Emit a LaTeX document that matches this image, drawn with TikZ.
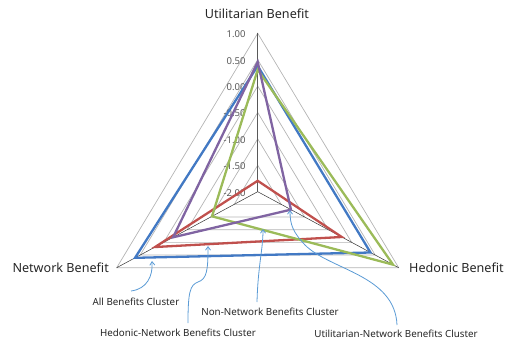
\documentclass[tikz,border=0pt]{standalone}
\usepackage{fontspec}
\setmainfont{Noto Sans}
\usetikzlibrary{calc,arrows.meta}
\definecolor{sblue}{HTML}{4279C4}
\definecolor{sred}{HTML}{C0504D}
\definecolor{sgreen}{HTML}{9BBB59}
\definecolor{spurple}{HTML}{8064A2}
\definecolor{arrowblue}{HTML}{5B9BD5}
\definecolor{gridgray}{HTML}{B4B4B4}
\definecolor{ticktext}{HTML}{595959}
\tikzset{
  gridline/.style={draw=gridgray, line width=0.7pt},
  axisline/.style={draw=black!80, line width=0.5pt},
  mainaxis/.style={draw=black!65, line width=1.3pt},
  series/.style={line width=2.3pt, line join=miter},
  ticklabel/.style={anchor=east, font=\fontsize{9.5}{11}\selectfont, text=ticktext, inner sep=0pt},
  axislabel/.style={font=\fontsize{12.6}{14}\selectfont, text=black!85, inner sep=0pt},
  clusterlabel/.style={font=\fontsize{9.8}{11}\selectfont, text=black!85, inner sep=0pt},
  pointer/.style={draw=arrowblue, line width=0.8pt, -{Straight Barb[length=3.5pt,width=5pt]}}
}
\begin{document}
\begin{tikzpicture}[x=1pt,y=-1pt]
\useasboundingbox (0,0) rectangle (511,342);
\coordinate (C) at (257.7,191.7);
\coordinate (T) at (257.7,33.3);
\coordinate (L) at (116.7,267.7);
\coordinate (R) at (398.7,267.7);
% grid rings
\foreach \f in {0.1667,0.3333,0.5,0.6667,0.8333,1.0}{
  \draw[gridline] ($(C)!\f!(T)$) -- ($(C)!\f!(R)$) -- ($(C)!\f!(L)$) -- cycle;
}
% axes
\draw[axisline] (C) -- (L);
\draw[axisline] (C) -- (R);
\draw[mainaxis] (C) -- (T);
% tick labels
\foreach \v/\f in {1.00/1.0,0.50/0.8333,0.00/0.6667,-0.50/0.5,-1.00/0.3333,-1.50/0.1667,-2.00/0.0}{
  \node[ticklabel] at ($(C)!\f!(T)+(-12,1)$) {\v};
}
% series
\draw[series, sblue] ($(C)!0.794!(T)$) -- ($(C)!0.80!(R)$) -- ($(C)!0.87!(L)$) -- cycle;
\draw[series, sred] ($(C)!0.069!(T)$) -- ($(C)!0.596!(R)$) -- ($(C)!0.728!(L)$) -- cycle;
\draw[series, sgreen] ($(C)!0.77!(T)$) -- ($(C)!0.96!(R)$) -- ($(C)!0.324!(L)$) -- cycle;
\draw[series, spurple] ($(C)!0.819!(T)$) -- ($(C)!0.236!(R)$) -- ($(C)!0.60!(L)$) -- cycle;
% axis labels
\node[axislabel] (ut) at (257,14) {Utilitarian Benefit};
\node[axislabel, anchor=east] (nb) at (109,268) {Network Benefit};
\node[axislabel, anchor=west] (hb) at (409,268) {Hedonic Benefit};
% cluster labels
\node[clusterlabel] (all) at (136,302) {All Benefits Cluster};
\node[clusterlabel] (non) at (270,312) {Non-Network Benefits Cluster};
\node[clusterlabel] (hed) at (178,333) {Hedonic-Network Benefits Cluster};
\node[clusterlabel] (uti) at (396,334) {Utilitarian-Network Benefits Cluster};
% arrow targets
\coordinate (aT) at (152,261);
\coordinate (hT) at (208,246);
\coordinate (nT) at (263,229);
\coordinate (uT) at (290,210);
\coordinate (a0) at (131,291);
\coordinate (h0) at (188,323);
\coordinate (n0) at (257,302);
\coordinate (u0) at (397,325);
\draw[pointer] (a0) .. controls (147,289) and (153,276) .. (aT);
\draw[pointer] (h0) .. controls (188,292) and (190,285) .. (198,282) .. controls (207,279) and (208,270) .. (hT);
\draw[pointer] (n0) .. controls (258,265) and (263,250) .. (nT);
\draw[pointer] (u0) .. controls (395,275) and (330,270) .. (305,245) .. controls (293,232) and (290,225) .. (uT);
\end{tikzpicture}
\end{document}
